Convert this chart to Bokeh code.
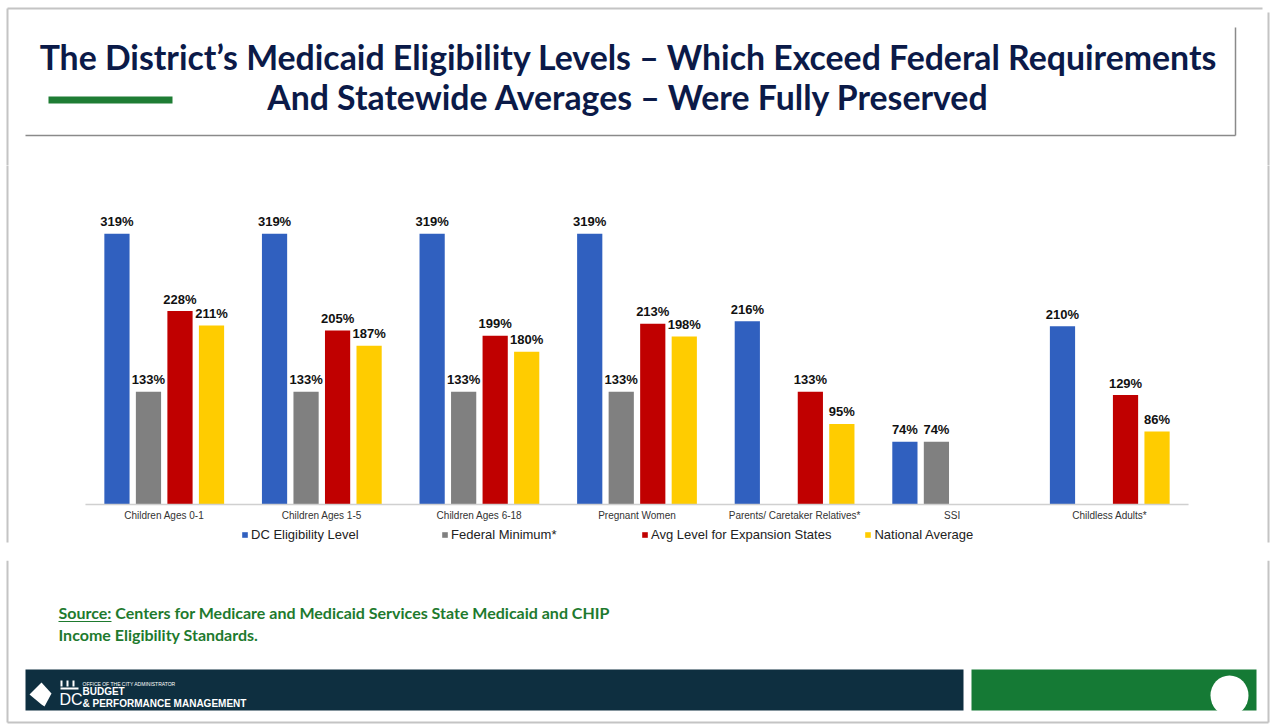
from bokeh.plotting import figure
from bokeh.models import (ColumnDataSource, FactorRange, Range1d, Legend, LegendItem,
                          BoxAnnotation)
from bokeh.layouts import column
from bokeh.transform import dodge
from bokeh.core.properties import value
from bokeh.embed import file_html
from bokeh.resources import INLINE

# ---------------- data ----------------
categories = ["Children Ages 0-1", "Children Ages 1-5", "Children Ages 6-18",
              "Pregnant Women", "Parents/ Caretaker Relatives*", "SSI",
              "Childless Adults*"]
series_names = ["DC Eligibility Level", "Federal Minimum*",
                "Avg Level for Expansion States", "National Average"]
dc_level = [319, 319, 319, 319, 216, 74, 210]
federal_min = [133, 133, 133, 133, None, 74, None]
expansion_avg = [228, 205, 199, 213, 133, None, 129]
national_avg = [211, 187, 180, 198, 95, None, 86]

title_lines = ["The District\u2019s Medicaid Eligibility Levels \u2013 Which Exceed Federal Requirements",
               "And Statewide Averages \u2013 Were Fully Preserved"]
source_lines = ["Source: Centers for Medicare and Medicaid Services State Medicaid and CHIP",
                "Income Eligibility Standards."]
logo_lines = ["OFFICE OF THE CITY ADMINISTRATOR", "BUDGET", "& PERFORMANCE MANAGEMENT"]

colors = ["#3060BF", "#808080", "#C00000", "#FFCC00"]
offsets = [-0.3, -0.1, 0.1, 0.3]

TITLE_FONT = "Lato"
SANS = "Liberation Sans"
W = 1273
BORDER = "#c4c4c4"


def blank(width, height, y_top=0):
    f = figure(width=width, height=height, output_backend="svg", toolbar_location=None,
               x_range=Range1d(0, width), y_range=Range1d(y_top + height, y_top),
               x_axis_location=None, y_axis_location=None, min_border=0,
               outline_line_color=None, background_fill_color="white",
               border_fill_color="white")
    f.grid.visible = False
    return f

# ---------------- header ----------------
H1 = 165
hdr = blank(W, H1)
hdr.segment(x0=[7, 7, 1268], y0=[8, 8, 12], x1=[7, 1262, 1268], y1=[H1, 8, H1],
            line_color=BORDER, line_width=2)
hdr.segment(x0=[25, 1235], y0=[135, 27], x1=[1235, 1235], y1=[135, 135],
            line_color="#8a8a8a", line_width=1.5)
hdr.quad(left=[48], right=[172], top=[96], bottom=[103], fill_color="#1E7D34",
         line_color=None)
hdr.text(x=[628, 628], y=[56, 96], text=title_lines, text_align="center",
         text_baseline="middle", text_font=value(TITLE_FONT), text_font_style="bold",
         text_font_size="33.8px", text_color="#0B1A48")

# ---------------- chart ----------------
H2 = 395
p = figure(width=W, height=H2, output_backend="svg", toolbar_location=None,
           x_range=FactorRange(factors=categories, range_padding=0.539,
                               range_padding_units="absolute"),
           y_range=Range1d(-44.78, 399.5), y_axis_location=None,
           min_border_left=0, min_border_right=0, min_border_top=0,
           min_border_bottom=18, outline_line_color=None,
           background_fill_color="white", border_fill_color="white")
p.grid.visible = False

series = [dc_level, federal_min, expansion_avg, national_avg]
renderers = []
for vals, col, off in zip(series, colors, offsets):
    cats = [c for c, v in zip(categories, vals) if v is not None]
    vs = [v for v in vals if v is not None]
    src = ColumnDataSource(dict(cat=cats, val=vs, lbl=[f"{v}%" for v in vs]))
    r = p.vbar(x=dodge("cat", off, range=p.x_range), top="val", width=0.16,
               source=src, fill_color=col, line_color=None)
    renderers.append(r)
    p.text(x=dodge("cat", off, range=p.x_range), y="val", text="lbl", source=src,
           text_align="center", text_baseline="middle", y_offset=-12,
           text_font=value(SANS), text_font_style="bold", text_font_size="13px",
           text_color="#111111")

# baseline of the bars, spanning the category band only
p.segment(x0=[(categories[0], -0.5)], x1=[(categories[-1], 0.5)], y0=[0], y1=[0],
          line_color="#d0d0d0", line_width=1.5)

ax = p.xaxis[0]
ax.fixed_location = 0
ax.axis_line_color = None
ax.major_tick_line_color = None
ax.major_tick_out = 0
ax.major_tick_in = 0
ax.major_label_standoff = 5
ax.major_label_text_font = SANS
ax.major_label_text_font_size = "10px"
ax.major_label_text_color = "#333333"

legend = Legend(items=[LegendItem(label=n, renderers=[r]) for n, r in zip(series_names, renderers)],
                orientation="horizontal", location=(241, 0),
                label_text_font=SANS, label_text_font_size="13px",
                label_text_color="#222222", glyph_width=7, glyph_height=7,
                label_standoff=3, label_width=157, spacing=33, padding=0,
                margin=0, label_height=14, border_line_color=None,
                background_fill_alpha=0)
p.add_layout(legend)

# slide side borders next to the chart
for lft in (6, 1267):
    p.add_layout(BoxAnnotation(left=lft, right=lft + 2, bottom=-18, top=H2,
                               left_units="screen", right_units="screen",
                               bottom_units="screen", top_units="screen",
                               fill_color=BORDER, fill_alpha=1, line_color=None))

# ---------------- footer ----------------
H3 = 725 - H1 - H2
Y0 = H1 + H2
ftr = blank(W, H3, y_top=Y0)
ftr.segment(x0=[7, 1268, 7], y0=[Y0, Y0, 722], x1=[7, 1268, 1268], y1=[722, 722, 722],
            line_color=BORDER, line_width=2)
ftr.text(x=[58, 58], y=[612, 634], text=source_lines, text_align="left",
         text_baseline="middle", text_font=value(TITLE_FONT), text_font_style="bold",
         text_font_size="16px", text_color="#1E7A2E")
ftr.segment(x0=[58], y0=[621], x1=[111], y1=[621], line_color="#1E7A2E", line_width=1.2)
ftr.quad(left=[25, 971], right=[963, 1256], top=[669, 669], bottom=[710, 710],
         fill_color=["#0E2F40", "#157A35"], line_color=None)
ftr.ellipse(x=[1229], y=[695], width=[38], height=[40], fill_color="white", line_color=None)
ftr.patch(x=[29, 41, 51, 44, 41], y=[694, 682, 693, 706, 704], fill_color="white", line_color=None)
ftr.quad(left=[60, 60, 66, 72], right=[78, 62, 68, 74], top=[687, 680, 680, 680],
         bottom=[689, 686, 686, 686], fill_color="white", line_color=None)
ftr.text(x=[59], y=[699], text=["DC"], text_font=value(SANS), text_font_size="16px",
         text_color="white", text_baseline="middle")
ftr.text(x=[82], y=[683], text=[logo_lines[0]], text_font=value(SANS),
         text_font_size="5px", text_color="white", text_baseline="middle")
ftr.text(x=[82, 82], y=[691, 703], text=logo_lines[1:], text_font=value(SANS),
         text_font_style="bold", text_font_size="10px", text_color="white",
         text_baseline="middle")

layout = column(hdr, p, ftr)
open("out.html", "w").write(file_html(layout, INLINE))
